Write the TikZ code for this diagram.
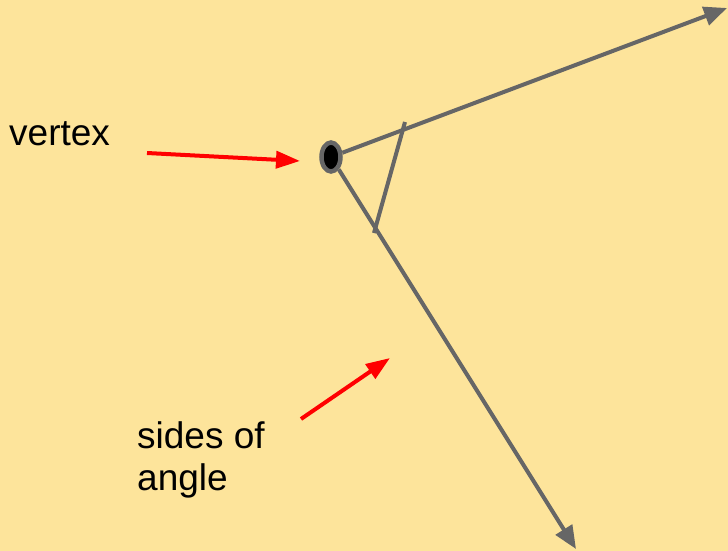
\documentclass[tikz,border=0pt]{standalone}
\usepackage{fontspec}
\setmainfont{Liberation Sans}
\usetikzlibrary{arrows.meta,positioning,shapes.geometric}
\definecolor{paper}{HTML}{FDE49B}
\definecolor{raygray}{HTML}{666666}

\begin{document}
\begin{tikzpicture}[x=1pt, y=-1pt,
  ray/.style={draw=raygray, line width=4pt, -{Triangle[length=23pt,width=19pt]}},
  tick/.style={draw=raygray, line width=4pt},
  pointer/.style={draw=red, line width=4pt, -{Triangle[length=24pt,width=17pt]}},
  dot/.style={ellipse, draw=raygray, fill=black, line width=4.5pt,
              minimum width=19pt, minimum height=29pt, inner sep=0pt},
  txt/.style={font=\fontsize{37}{42}\selectfont, align=left,
              inner sep=0pt, anchor=base west}
]
%% background and page size
\fill[paper] (0,0) rectangle (728,551);
\useasboundingbox (0,0) rectangle (728,551);

%% the angle
\node[dot] (vertex) at (331,157) {};
\coordinate (tipA) at (727,8);
\coordinate (tipB) at (576,549);
\draw[ray] (vertex) -- (tipA);
\draw[ray] (vertex) -- (tipB);

%% angle mark
\coordinate (tickA) at (405,122);
\coordinate (tickB) at (374,233);
\draw[tick] (tickA) -- (tickB);

%% labels (base = last line)
\node[txt] (vertexlbl) at (9,145) {vertex};
\node[txt] (sideslbl)  at (137,490) {sides of\\angle};

%% red pointers
\coordinate (vtail) at (147,153);
\coordinate (vhead) at (300,161);
\draw[pointer] (vtail) -- (vhead);
\coordinate (stail) at (301,419);
\coordinate (shead) at (390,358);
\draw[pointer] (stail) -- (shead);
\end{tikzpicture}
\end{document}
